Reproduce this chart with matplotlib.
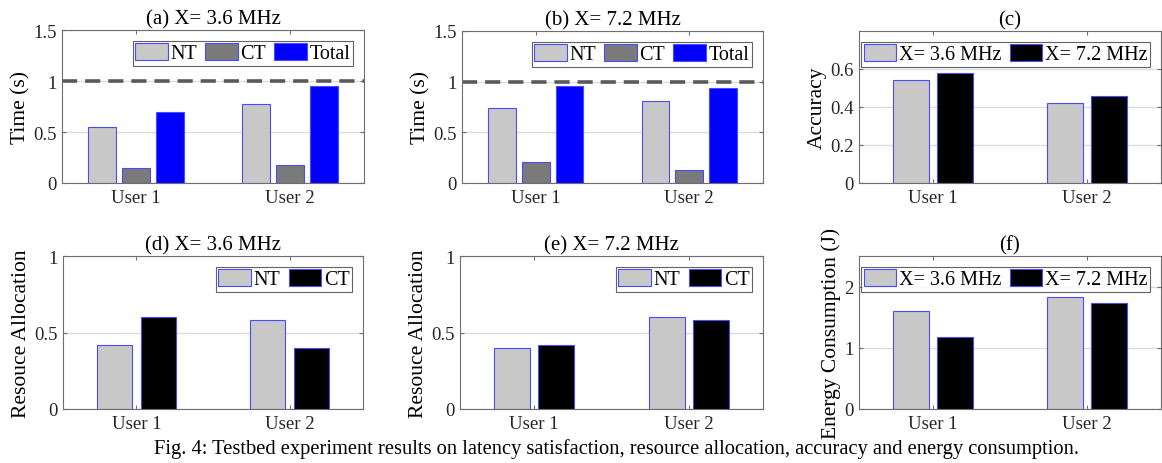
import numpy as np
import matplotlib
matplotlib.use("Agg")
import matplotlib.pyplot as plt

plt.rcParams["font.family"] = ["Liberation Serif", "DejaVu Serif"]
plt.rcParams["font.size"] = 13.5

users = ["User 1", "User 2"]

# (a) and (b): latency (s)
nt_36 = [0.55, 0.77]
ct_36 = [0.15, 0.18]
total_36 = [0.70, 0.95]
nt_72 = [0.74, 0.81]
ct_72 = [0.21, 0.13]
total_72 = [0.96, 0.94]
latency_limit = 1.0

# (c) accuracy
acc_36 = [0.54, 0.42]
acc_72 = [0.58, 0.46]

# (d) and (e): resource allocation
ra_nt_36 = [0.42, 0.58]
ra_ct_36 = [0.60, 0.40]
ra_nt_72 = [0.40, 0.60]
ra_ct_72 = [0.42, 0.58]

# (f) energy consumption (J)
en_36 = [1.60, 1.83]
en_72 = [1.17, 1.74]

LIGHT = "#c8c8c8"
DARK = "#7a7a7a"
BLUE = "#0000ff"
BLACK = "#000000"
EDGE = "#4a4aff"
AXC = "#6e6e6e"

W, H = 1162, 464


def make_axes(fig, x0, y0, x1, y1):
    return fig.add_axes([x0 / W, 1 - y1 / H, (x1 - x0) / W, (y1 - y0) / H])


def style(ax, ylim, yticks, yticklabels, ylabel, title):
    ax.set_xlim(0.52, 2.48)
    ax.set_ylim(*ylim)
    ax.set_yticks(yticks)
    ax.set_yticklabels(yticklabels)
    ax.set_xticks([1, 2])
    ax.set_xticklabels(users)
    ax.set_axisbelow(True)
    ax.yaxis.grid(True, color="#dcdcdc", linewidth=1.0)
    for s in ax.spines.values():
        s.set_color(AXC)
        s.set_linewidth(0.8)
    ax.tick_params(direction="in", length=3, color=AXC, top=True, right=True,
                   labelcolor="#262626", pad=4)
    ax.set_ylabel(ylabel, labelpad=2, fontsize=15.5)
    ax.set_title(title, pad=5, fontsize=15)


def grouped(ax, series, colors, labels, width, step, ncol, fontsize=14.5):
    x = np.arange(1, len(users) + 1)
    n = len(series)
    for i, (vals, c, lab) in enumerate(zip(series, colors, labels)):
        off = (i - (n - 1) / 2) * step
        ax.bar(x + off, vals, width, color=c, edgecolor=EDGE, linewidth=0.8,
               label=lab)
    leg = ax.legend(loc="upper right", ncol=ncol, frameon=True, fancybox=False,
                    edgecolor="#3c3c3c", handlelength=1.6, handleheight=0.85,
                    handletextpad=0.15, columnspacing=0.4, borderpad=0.12,
                    borderaxespad=0.55, fontsize=fontsize)
    leg.get_frame().set_linewidth(0.8)
    return leg


fig = plt.figure(figsize=(W / 100, H / 100), dpi=100)

# (a)
ax = make_axes(fig, 62, 31, 364, 184)
grouped(ax, [nt_36, ct_36, total_36], [LIGHT, DARK, BLUE], ["NT", "CT", "Total"],
        0.18, 0.22, 3)
ax.axhline(latency_limit, color="#5a5a5a", linestyle=(0, (4.2, 2.2)), linewidth=2.6,
           zorder=1.5)
style(ax, (0, 1.5), [0, 0.5, 1, 1.5], ["0", "0.5", "1", "1.5"], "Time (s)",
      "(a) X= 3.6 MHz")

# (b)
ax = make_axes(fig, 462, 32, 763, 184)
grouped(ax, [nt_72, ct_72, total_72], [LIGHT, DARK, BLUE], ["NT", "CT", "Total"],
        0.18, 0.22, 3)
ax.axhline(latency_limit, color="#5a5a5a", linestyle=(0, (4.2, 2.2)), linewidth=2.6,
           zorder=1.5)
style(ax, (0, 1.5), [0, 0.5, 1, 1.5], ["0", "0.5", "1", "1.5"], "Time (s)",
      "(b) X= 7.2 MHz")

# (c)
ax = make_axes(fig, 859, 32, 1161, 184)
grouped(ax, [acc_36, acc_72], [LIGHT, BLACK], ["X= 3.6 MHz", "X= 7.2 MHz"],
        0.23, 0.285, 2)
style(ax, (0, 0.8), [0, 0.2, 0.4, 0.6], ["0", "0.2", "0.4", "0.6"], "Accuracy", "(c)")

# (d)
ax = make_axes(fig, 63, 257, 363, 410)
grouped(ax, [ra_nt_36, ra_ct_36], [LIGHT, BLACK], ["NT", "CT"], 0.23, 0.285, 2)
style(ax, (0, 1), [0, 0.5, 1], ["0", "0.5", "1"], "Resouce Allocation",
      "(d) X= 3.6 MHz")

# (e)
ax = make_axes(fig, 460, 257, 763, 410)
grouped(ax, [ra_nt_72, ra_ct_72], [LIGHT, BLACK], ["NT", "CT"], 0.23, 0.285, 2)
style(ax, (0, 1), [0, 0.5, 1], ["0", "0.5", "1"], "Resouce Allocation",
      "(e) X= 7.2 MHz")

# (f)
ax = make_axes(fig, 859, 257, 1161, 410)
grouped(ax, [en_36, en_72], [LIGHT, BLACK], ["X= 3.6 MHz", "X= 7.2 MHz"],
        0.23, 0.285, 2)
style(ax, (0, 2.5), [0, 1, 2], ["0", "1", "2"], "Energy Consumption (J)", "(f)")

fig.text(617 / W, 1 - 449 / H,
         "Fig. 4: Testbed experiment results on latency satisfaction, resource "
         "allocation, accuracy and energy consumption.",
         ha="center", va="center", fontsize=14.8)

fig.savefig("out.png", dpi=100)
